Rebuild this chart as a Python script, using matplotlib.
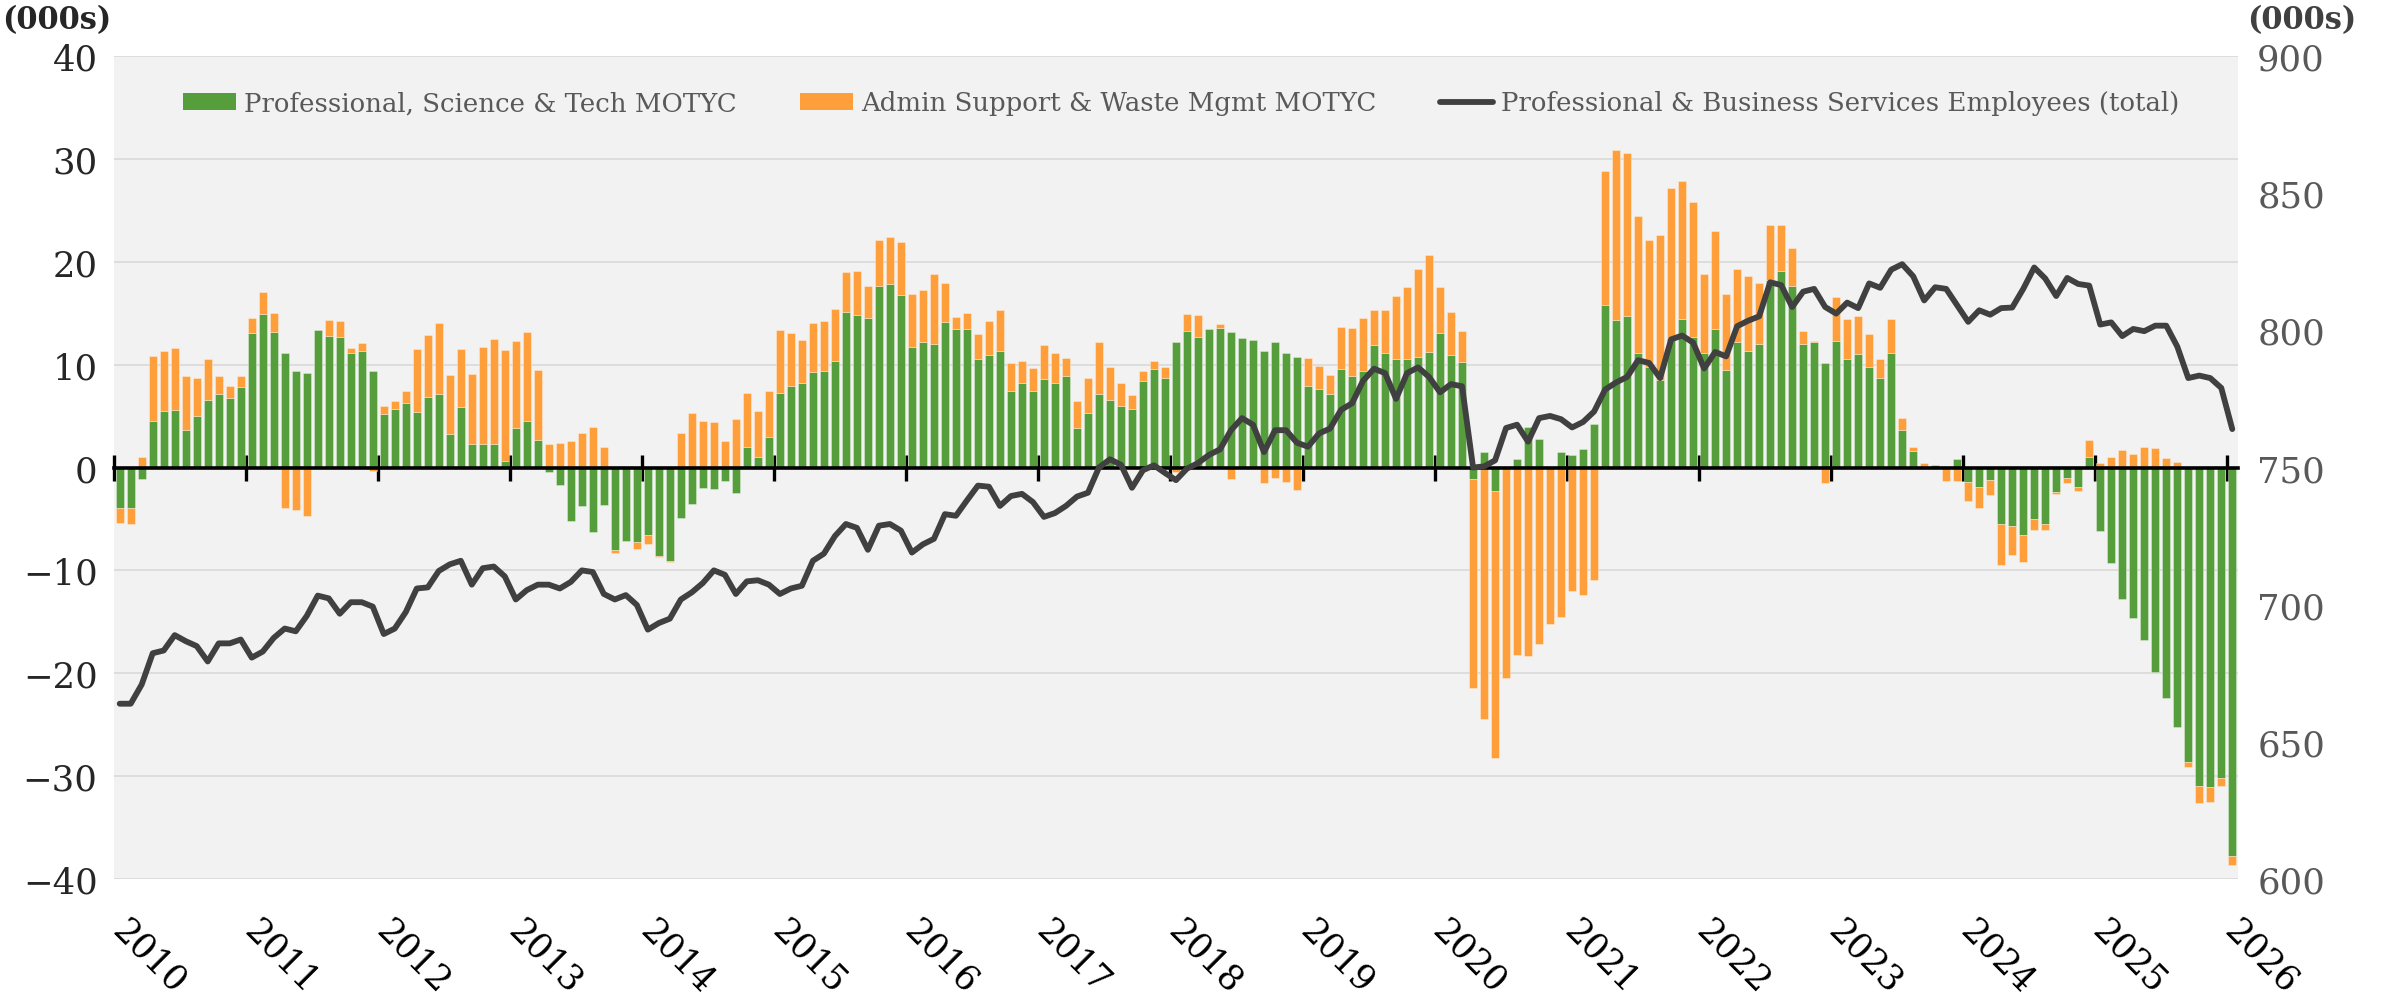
import numpy as np
import matplotlib
matplotlib.use("Agg")
import matplotlib.pyplot as plt
from matplotlib.patches import Patch
from matplotlib.lines import Line2D
from matplotlib.transforms import offset_copy

plt.rcParams['font.family'] = 'DejaVu Serif'

# monthly data, Jan 2010 .. Jan 2026 (thousands)
years = list(range(2010, 2027))

prof_sci_tech = [
    -3.9, -3.9, -1.1, 4.5, 5.5, 5.6, 3.6, 5.0, 6.6, 7.1, 6.8, 7.8,            # 2010
    13.1, 14.9, 13.2, 11.1, 9.4, 9.2, 13.4, 12.8, 12.7, 11.1, 11.3, 9.4,      # 2011
    5.2, 5.7, 6.3, 5.4, 6.9, 7.1, 3.3, 5.9, 2.3, 2.3, 2.3, 0.6,               # 2012
    3.8, 4.5, 2.7, -0.4, -1.7, -5.2, -3.7, -6.3, -3.6, -8.0, -7.1, -7.2,      # 2013
    -6.6, -8.6, -9.1, -4.9, -3.5, -2.0, -2.1, -1.3, -2.5, 2.0, 1.0, 3.0,      # 2014
    7.2, 7.9, 8.2, 9.3, 9.4, 10.4, 15.1, 14.8, 14.5, 17.6, 17.8, 16.8,        # 2015
    11.7, 12.2, 12.0, 14.1, 13.5, 13.5, 10.5, 10.9, 11.3, 7.4, 8.2, 7.4,      # 2016
    8.6, 8.2, 8.9, 3.8, 5.3, 7.1, 6.6, 6.0, 5.7, 8.4, 9.6, 8.7,               # 2017
    12.2, 13.3, 12.7, 13.5, 13.6, 13.2, 12.6, 12.4, 11.3, 12.2, 11.1, 10.7,   # 2018
    7.9, 7.6, 7.1, 9.6, 8.9, 9.4, 11.9, 11.1, 10.5, 10.5, 10.7, 11.2,         # 2019
    13.1, 10.9, 10.3, -1.1, 1.5, -2.3, 0.0, 0.8, 3.9, 2.8, 0.0, 1.5,          # 2020
    1.2, 1.8, 4.2, 15.8, 14.3, 14.7, 11.1, 9.8, 8.5, 12.6, 14.4, 12.7,        # 2021
    11.1, 13.5, 9.5, 12.2, 11.3, 12.0, 18.2, 19.1, 17.6, 12.0, 12.2, 10.2,    # 2022
    12.3, 10.5, 11.0, 9.8, 8.7, 11.1, 3.6, 1.6, 0.0, 0.2, 0.0, 0.8,           # 2023
    -1.4, -1.9, -1.2, -5.5, -5.7, -6.6, -5.0, -5.5, -2.4, -1.0, -1.9, 1.0,    # 2024
    -6.2, -9.3, -12.8, -14.6, -16.8, -19.9, -22.4, -25.2, -28.6, -31.0, -31.1, -30.2,  # 2025
    -37.8,                                                                    # 2026
]

admin_waste = [
    -1.5, -1.6, 1.0, 6.3, 5.8, 6.0, 5.3, 3.7, 3.9, 1.8, 1.1, 1.1,
    1.4, 2.2, 1.8, -3.9, -4.1, -4.7, 0.0, 1.5, 1.5, 0.5, 0.8, -0.3,
    0.8, 0.8, 1.1, 6.1, 6.0, 6.9, 5.7, 5.6, 6.8, 9.4, 10.2, 10.8,
    8.5, 8.7, 6.8, 2.3, 2.4, 2.6, 3.4, 3.9, 2.0, -0.3, 0.0, -0.7,
    -0.8, -0.1, -0.1, 3.4, 5.3, 4.5, 4.4, 2.6, 4.7, 5.2, 4.5, 4.4,
    6.2, 5.2, 4.2, 4.7, 4.8, 5.0, 3.9, 4.3, 3.1, 4.5, 4.6, 5.1,
    5.2, 5.1, 6.8, 3.8, 1.1, 1.5, 2.5, 3.3, 4.0, 2.8, 2.2, 2.3,
    3.3, 2.9, 1.7, 2.7, 3.4, 5.1, 3.2, 2.2, 1.3, 1.0, 0.8, 1.1,
    -0.4, 1.6, 2.1, 0.0, 0.3, -1.1, 0.0, 0.0, -1.5, -1.0, -1.4, -2.2,
    2.7, 2.3, 1.9, 4.1, 4.7, 5.1, 3.4, 4.2, 6.2, 7.0, 8.6, 9.5,
    4.4, 4.2, 3.0, -20.3, -24.4, -25.9, -20.5, -18.2, -18.3, -17.2, -15.2, -14.5,
    -12.0, -12.4, -10.9, 13.0, 16.6, 15.9, 13.3, 12.3, 14.1, 14.6, 13.4, 13.1,
    7.7, 9.5, 7.4, 7.1, 7.3, 5.9, 5.4, 4.5, 3.7, 1.3, 0.1, -1.5,
    4.3, 3.9, 3.7, 3.2, 1.8, 3.3, 1.2, 0.4, 0.4, 0.0, -1.3, -1.3,
    -1.9, -2.0, -1.5, -4.0, -2.8, -2.6, -1.1, -0.6, -0.2, -0.5, -0.4, 1.7,
    0.4, 1.0, 1.7, 1.3, 2.0, 1.9, 0.9, 0.5, -0.5, -1.6, -1.4, -0.8,
    -0.8,
]

pbs_total = [
    663.9, 663.9, 670.9, 682.3, 683.3, 688.9, 686.7, 684.9, 679.3, 685.9, 685.9, 687.3,
    680.7, 682.9, 687.9, 691.3, 690.3, 695.9, 703.3, 702.3, 696.7, 700.9, 700.9, 699.3,
    689.3, 691.3, 697.3, 705.9, 706.3, 712.3, 714.7, 716.0, 707.3, 713.3, 713.9, 710.3,
    701.9, 705.3, 707.3, 707.3, 705.9, 708.3, 712.5, 711.9, 703.9, 701.9, 703.5, 699.9,
    690.9, 693.3, 694.9, 701.9, 704.5, 707.9, 712.5, 710.9, 703.9, 708.5, 708.9, 707.3,
    703.9, 705.9, 706.9, 716.0, 718.6, 725.0, 729.4, 728.0, 720.0, 728.8, 729.4, 727.0,
    719.0, 722.0, 724.0, 733.0, 732.4, 738.0, 743.4, 743.0, 736.0, 739.6, 740.4, 737.4,
    732.0, 733.4, 736.0, 739.4, 740.8, 750.0, 753.0, 751.0, 742.6, 749.0, 750.8, 748.0,
    745.4, 749.6, 751.6, 754.6, 756.6, 763.6, 768.0, 765.6, 755.6, 763.6, 763.6, 759.0,
    757.6, 762.4, 764.2, 771.0, 773.4, 781.6, 786.0, 784.4, 775.0, 784.4, 786.5, 783.0,
    777.4, 780.4, 779.6, 750.0, 750.4, 752.6, 764.4, 765.6, 759.4, 768.0, 768.8, 767.6,
    764.6, 766.6, 770.4, 778.4, 781.0, 783.0, 789.1, 788.1, 782.6, 796.7, 798.1, 795.5,
    786.1, 792.1, 790.5, 801.5, 803.5, 805.1, 817.5, 816.5, 808.5, 814.1, 815.1, 808.5,
    806.1, 810.1, 808.1, 817.1, 815.5, 822.1, 824.1, 819.7, 810.9, 815.7, 815.1, 809.1,
    803.1, 807.3, 805.7, 808.1, 808.3, 815.1, 822.9, 818.9, 812.5, 819.1, 816.9, 816.3,
    802.1, 802.9, 797.9, 800.5, 799.7, 801.7, 801.7, 794.1, 782.6, 783.5, 782.6, 779.0,
    764.0,
]

GREEN = '#559E3B'
ORANGE = '#FF9F3B'
LINE = '#404040'

fig = plt.figure(figsize=(23.89, 10.03), dpi=100)
ax = fig.add_axes([0.0478, 0.1226, 0.8889, 0.8206])
ax.set_facecolor('#F2F2F2')

x = np.arange(len(prof_sci_tech))
g = np.array(prof_sci_tech)
o = np.array(admin_waste)
# excel-style stacking: positives on positives, negatives on negatives
o_bottom = np.where(np.sign(o) == np.sign(g), g, 0.0)

ax.bar(x, g, width=0.72, color=GREEN, edgecolor=(1, 1, 1, 0.45), linewidth=0.5, zorder=2)
ax.bar(x, o, bottom=o_bottom, width=0.72, color=ORANGE, edgecolor=(1, 1, 1, 0.45), linewidth=0.5, zorder=2)

ax.set_xlim(-0.5, len(x) - 0.5)
ax.set_ylim(-40, 40)
ax.set_yticks(range(-40, 41, 10))
ax.yaxis.grid(True, color='#D9D9D9', linewidth=1.2)
ax.set_axisbelow(True)

for s in ['top', 'right', 'left']:
    ax.spines[s].set_visible(False)
ax.spines['bottom'].set_position(('data', 0))
ax.spines['bottom'].set_color('black')
ax.spines['bottom'].set_linewidth(2.6)
ax.spines['bottom'].set_zorder(3)

tick_pos = np.arange(len(years)) * 12 - 0.5
ax.set_xticks(tick_pos)
ax.tick_params(axis='x', direction='inout', length=19, width=2.4, color='black', labelbottom=False)
ax.tick_params(axis='y', length=0, pad=12, labelsize=25.5, labelcolor='#262626')

# year labels below the plot, rotated
lab_tr = offset_copy(ax.transData, fig=fig, x=35, y=-77, units='dots')
for tp, yr in zip(tick_pos, years):
    ax.text(tp, -40, str(yr), transform=lab_tr, rotation=-45, ha='center', va='center',
            fontsize=25, color='black')

ax2 = ax.twinx()
ax2.plot(x, pbs_total, color=LINE, linewidth=4.2, solid_joinstyle='round', solid_capstyle='round')
ax2.set_ylim(600, 900)
ax2.set_yticks(range(600, 901, 50))
ax2.tick_params(axis='y', length=0, pad=14, labelsize=25.5, labelcolor='#595959')
for s in ax2.spines.values():
    s.set_visible(False)

fig.text(0.001, 0.995, '(000s)', ha='left', va='top', fontsize=22, fontweight='bold', color='#262626')
fig.text(0.9405, 0.995, '(000s)', ha='left', va='top', fontsize=22, fontweight='bold', color='#404040')

handles = [
    Patch(facecolor=GREEN),
    Patch(facecolor=ORANGE),
    Line2D([0], [0], color=LINE, linewidth=4.2, solid_capstyle='round'),
]
labels = [
    'Professional, Science & Tech MOTYC',
    'Admin Support & Waste Mgmt MOTYC',
    'Professional & Business Services Employees (total)',
]
leg = ax.legend(handles, labels, loc='center left', bbox_to_anchor=(0.0324, 0.943), ncol=3,
                frameon=False, fontsize=18.7, handlelength=2.04, handleheight=0.62,
                handletextpad=0.3, columnspacing=2.46, borderpad=0, borderaxespad=0)
for t in leg.get_texts():
    t.set_color('#595959')

fig.savefig('out.png', dpi=100)
